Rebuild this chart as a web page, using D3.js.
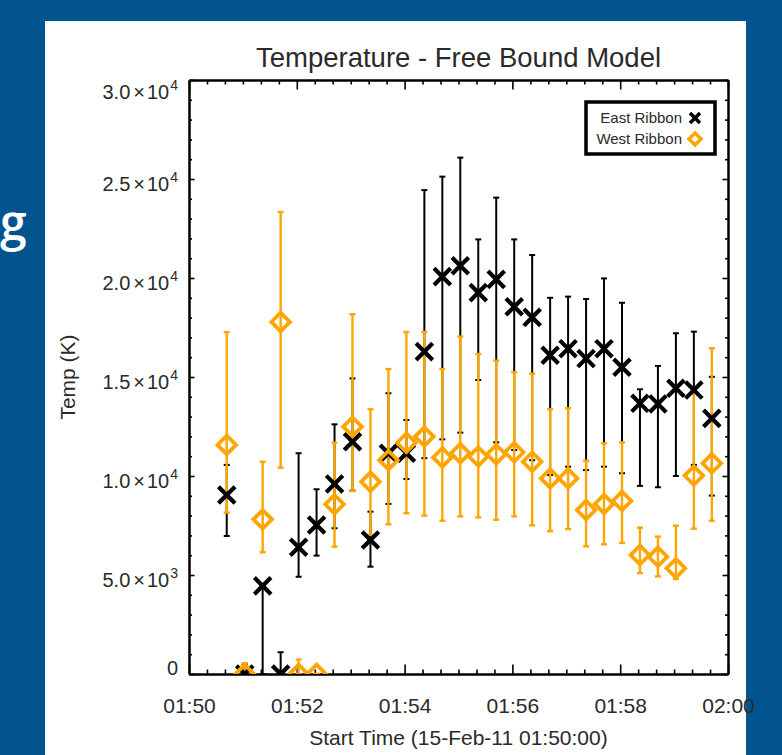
<!DOCTYPE html>
<html>
<head>
<meta charset="utf-8">
<script src="https://cdn.jsdelivr.net/npm/d3@7"></script>
<style>
  body { margin: 0; background: #02548f; }
  svg text { font-family: "Liberation Sans", Arial, Helvetica, sans-serif; fill: #2a2a2a; }
</style>
</head>
<body>
<svg id="chart"></svg>
<script>
// Sample times (start of each 20 s integration)
const times = ['01:50:42', '01:51:02', '01:51:22', '01:51:42', '01:52:02', '01:52:22', '01:52:42',
  '01:53:02', '01:53:22', '01:53:42', '01:54:02', '01:54:22', '01:54:42', '01:55:02', '01:55:22',
  '01:55:42', '01:56:02', '01:56:22', '01:56:42', '01:57:02', '01:57:22', '01:57:42', '01:58:02',
  '01:58:22', '01:58:42', '01:59:02', '01:59:22', '01:59:42'];

// East ribbon (K): value, lower and upper end of the error bar
const eastTemp = [9040, 0, 4450, 0, 6400, 7525, 9600, 11730, 6770, 11150, 11150, 16280, 20070, 20620,
  19260, 19930, 18550, 18010, 16100, 16430, 15930, 16430, 15490, 13670, 13640, 14430, 14340, 12910];
const eastLow = [6970, 0, 0, 0, 4910, 5980, 7360, 9260, 5420, 8590, 9850, 10900, 11850, 12190,
  14850, 11700, 11310, 10800, 10050, 10470, 10300, 10470, 10140, 9500, 9430, 10000, 10560, 9010];
const eastHigh = [10560, 500, 4450, 1100, 11150, 9330, 12610, 14930, 8200, 14180, 12830, 24440, 25120, 26080,
  21950, 24060, 21950, 21160, 19000, 19060, 18940, 19980, 18750, 14380, 15560, 17210, 17290, 15010];

// West ribbon (K)
const westTemp = [11570, 0, 7810, 17780, 0, 0, 8570, 12490, 9710, 10800, 11680, 11990, 10940, 11150,
  10980, 11100, 11200, 10720, 9880, 9880, 8280, 8590, 8740, 6010, 5920, 5340, 10020, 10640];
const westLow = [8150, 0, 6150, 10420, 0, 0, 6430, 9240, 7020, 7560, 8120, 8000, 7740, 7960,
  7910, 7790, 7960, 7510, 7210, 7320, 6450, 6550, 6620, 5100, 4930, 4800, 7340, 7740];
const westHigh = [17270, 550, 10720, 23330, 730, 0, 11680, 18170, 13370, 15400, 17270, 17270, 15400, 17040,
  16160, 15820, 15240, 15170, 13370, 13420, 10770, 11650, 11700, 7390, 6940, 7490, 14380, 16450];

const xDomain = ['01:50:00', '02:00:00'];
const yMajorTicks = [0, 5000, 10000, 15000, 20000, 25000, 30000];
const yTickMantissa = ['0', '5.0', '1.0', '1.5', '2.0', '2.5', '3.0'];
const yTickExponent = ['', '3', '4', '4', '4', '4', '4'];
const seriesNames = ['East Ribbon', 'West Ribbon'];

const W = 782, H = 755;
const plot = { left: 189, right: 728, top: 80, bottom: 674 };
const parseT = d3.timeParse('%H:%M:%S');

const svg = d3.select('#chart')
  .attr('width', W)
  .attr('height', H)
  .attr('viewBox', `0 0 ${W} ${H}`);

// page background + white panel
svg.append('rect').attr('width', W).attr('height', H).attr('fill', '#02548f');
svg.append('text')
  .attr('x', 0).attr('y', 240)
  .style('font-family', '"Open Sans", "Liberation Sans", sans-serif')
  .style('font-size', '48px')
  .style('font-weight', 600)
  .style('fill', '#fff')
  .text('g');
svg.append('rect')
  .attr('x', 45).attr('y', 21)
  .attr('width', 701).attr('height', H - 21)
  .attr('fill', '#fff');

const x = d3.scaleTime()
  .domain(xDomain.map(parseT))
  .range([plot.left, plot.right]);
const y = d3.scaleLinear()
  .domain([0, 30000])
  .range([plot.bottom, plot.top]);

const yMinor = d3.range(0, 30001, 1000).filter(v => v % 5000 !== 0);
const xMajor = x.ticks(d3.timeMinute.every(2));
const xMinor = x.ticks(d3.timeSecond.every(20)).filter(t => t.getSeconds() !== 0 || t.getMinutes() % 2 !== 0);

const styleAxis = (g) => {
  g.select('.domain').attr('stroke', '#000').attr('stroke-width', 2);
  g.selectAll('.tick line').attr('stroke', '#000').attr('stroke-width', 1.6);
};

// minor ticks
svg.append('g').attr('transform', `translate(${plot.left},0)`)
  .call(d3.axisLeft(y).tickValues(yMinor).tickSize(-3).tickSizeOuter(0).tickFormat(''))
  .call(styleAxis);
svg.append('g').attr('transform', `translate(${plot.right},0)`)
  .call(d3.axisRight(y).tickValues(yMinor).tickSize(-3).tickSizeOuter(0).tickFormat(''))
  .call(styleAxis);
svg.append('g').attr('transform', `translate(0,${plot.bottom})`)
  .call(d3.axisBottom(x).tickValues(xMinor).tickSize(-4.5).tickSizeOuter(0).tickFormat(''))
  .call(styleAxis);
svg.append('g').attr('transform', `translate(0,${plot.top})`)
  .call(d3.axisTop(x).tickValues(xMinor).tickSize(-4.5).tickSizeOuter(0).tickFormat(''))
  .call(styleAxis);

// major ticks
const gLeft = svg.append('g').attr('transform', `translate(${plot.left},0)`)
  .call(d3.axisLeft(y).tickValues(yMajorTicks).tickSize(-5.5).tickSizeOuter(0).tickPadding(10).tickFormat(''))
  .call(styleAxis);
svg.append('g').attr('transform', `translate(${plot.right},0)`)
  .call(d3.axisRight(y).tickValues(yMajorTicks).tickSize(-5.5).tickSizeOuter(0).tickFormat(''))
  .call(styleAxis);
const gBottom = svg.append('g').attr('transform', `translate(0,${plot.bottom})`)
  .call(d3.axisBottom(x).tickValues(xMajor).tickSize(-9.5).tickSizeOuter(0).tickPadding(24)
    .tickFormat(d3.timeFormat('%H:%M')))
  .call(styleAxis);
svg.append('g').attr('transform', `translate(0,${plot.top})`)
  .call(d3.axisTop(x).tickValues(xMajor).tickSize(-9.5).tickSizeOuter(0).tickFormat(''))
  .call(styleAxis);

gBottom.selectAll('.tick text')
  .attr('fill', null)
  .style('font-size', '21px');

// y labels with superscript exponents; end labels are pulled inside the range like IDL does
const lastTick = yMajorTicks.length - 1;
gLeft.selectAll('.tick').each(function (d, i) {
  const t = d3.select(this).select('text')
    .attr('fill', null)
    .attr('x', -11)
    .attr('dy', i === 0 ? 0 : (i === lastTick ? 18 : 11))
    .style('font-size', '20px')
    .attr('text-anchor', 'end');
  const idx = yMajorTicks.indexOf(d);
  if (yTickExponent[idx] === '') {
    t.text(yTickMantissa[idx]);
    return;
  }
  t.text(null);
  t.append('tspan').text(yTickMantissa[idx]);
  t.append('tspan').attr('dx', 3).text('\u00d7');
  t.append('tspan').attr('dx', 2).text('10');
  t.append('tspan').attr('dx', 1).attr('dy', -9).style('font-size', '14px').text(yTickExponent[idx]);
});

// titles
svg.append('text')
  .attr('x', (plot.left + plot.right) / 2).attr('y', 67)
  .attr('text-anchor', 'middle')
  .style('font-size', '27.5px')
  .text('Temperature - Free Bound Model');
svg.append('text')
  .attr('x', (plot.left + plot.right) / 2).attr('y', 745)
  .attr('text-anchor', 'middle')
  .style('font-size', '21px')
  .text('Start Time (15-Feb-11 01:50:00)');
svg.append('text')
  .attr('transform', `translate(75,${(plot.top + plot.bottom) / 2}) rotate(-90)`)
  .attr('text-anchor', 'middle')
  .style('font-size', '21px')
  .text('Temp (K)');

// data
svg.append('clipPath').attr('id', 'plot-clip')
  .append('rect')
  .attr('x', plot.left).attr('y', plot.top)
  .attr('width', plot.right - plot.left).attr('height', plot.bottom - plot.top);

const rows = (temp, low, high) => times.map((t, i) => ({ t: parseT(t), v: temp[i], lo: low[i], hi: high[i] }));
const east = rows(eastTemp, eastLow, eastHigh);
const west = rows(westTemp, westLow, westHigh);

const ORANGE = '#ffa500';
const crossPath = (s) => `M${-s},${-s}L${s},${s}M${-s},${s}L${s},${-s}`;
const diamondPath = (s) => `M0,${-s}L${s},0L0,${s}L${-s},0Z`;

const gData = svg.append('g').attr('clip-path', 'url(#plot-clip)');

const errorBars = (data, color, width) => {
  const g = gData.append('g').attr('stroke', color).attr('stroke-width', width);
  data.forEach((d) => {
    const cx = x(d.t);
    g.append('line').attr('x1', cx).attr('x2', cx).attr('y1', y(d.lo)).attr('y2', y(d.hi));
    [d.lo, d.hi].forEach((v) => {
      g.append('line').attr('x1', cx - 3).attr('x2', cx + 3).attr('y1', y(v)).attr('y2', y(v));
    });
  });
};

errorBars(east, '#000', 2);
errorBars(west, ORANGE, 2.4);

gData.append('g').selectAll('path')
  .data(east).join('path')
  .attr('transform', d => `translate(${x(d.t)},${y(d.v)})`)
  .attr('d', crossPath(8.3))
  .attr('fill', 'none')
  .attr('stroke', '#000')
  .attr('stroke-width', 4.2);

gData.append('g').selectAll('path')
  .data(west).join('path')
  .attr('transform', d => `translate(${x(d.t)},${y(d.v)})`)
  .attr('d', diamondPath(9.3))
  .attr('fill', 'none')
  .attr('stroke', ORANGE)
  .attr('stroke-width', 3.8);

// legend
const gL = svg.append('g').attr('class', 'legend');
gL.append('rect')
  .attr('x', 586).attr('y', 102)
  .attr('width', 129).attr('height', 52)
  .attr('fill', '#fff')
  .attr('stroke', '#000')
  .attr('stroke-width', 3.5);
seriesNames.forEach((name, i) => {
  const ly = 118 + i * 21;
  gL.append('text')
    .attr('x', 682).attr('y', ly + 5)
    .attr('text-anchor', 'end')
    .style('font-size', '15px')
    .text(name);
  gL.append('path')
    .attr('transform', `translate(695,${ly})`)
    .attr('d', i === 0 ? crossPath(5) : diamondPath(6))
    .attr('fill', 'none')
    .attr('stroke', i === 0 ? '#000' : ORANGE)
    .attr('stroke-width', 3.5);
});
</script>
</body>
</html>
